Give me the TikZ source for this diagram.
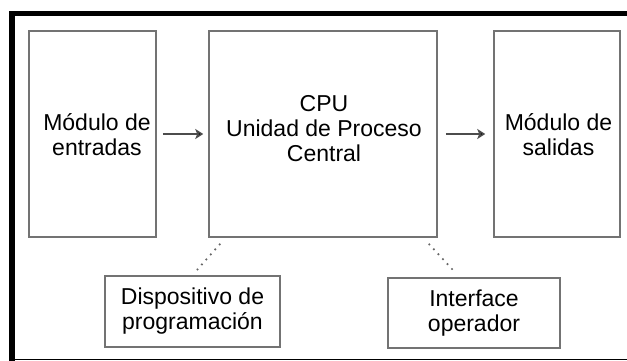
\documentclass[tikz,border=0pt]{standalone}
\usepackage{fontspec}
\setmainfont{Liberation Sans}
\usetikzlibrary{arrows.meta}
\begin{document}
\begin{tikzpicture}[x=1pt,y=-1pt,
  box/.style={draw=black!55,line width=1.5pt,inner sep=0pt,fill=white},
  txt/.style={inner sep=0pt,align=center,text=black,font=\fontsize{23}{25}\selectfont},
  btxt/.style={box,align=center,text=black,font=\fontsize{23}{25}\selectfont},
  arr/.style={draw=black!70,line width=2.6pt,-{Stealth[length=8pt,width=10pt,inset=2pt,fill=black]}},
  dots/.style={draw=black!60,line width=1.7pt,dash pattern=on 1.7pt off 5pt}]
\useasboundingbox (0,0) rectangle (627,361);
% frame
\fill[black] (9,11) rectangle (627,16.5);
\fill[black] (9,11) rectangle (15,361);
\draw[black,line width=1.5pt] (9,359.5) -- (627,359.5);
% boxes
\node[box,minimum width=127pt,minimum height=206pt] (in) at (92.5,134) {};
\node[box,minimum width=228pt,minimum height=206pt] (cpu) at (323,134) {};
\node[box,minimum width=126pt,minimum height=206pt] (out) at (557,134) {};
\node[txt] (tin) at (97,134.5) {Módulo de\\entradas};
\node[txt] (tcpu) at (324,129) {CPU\\Unidad de Proceso\\Central};
\node[txt] (tout) at (558.5,134.5) {Módulo de\\salidas};
\node[btxt,minimum width=175pt,minimum height=71pt] (prog) at (192.5,311.5) {Dispositivo de\\programación};
\node[btxt,minimum width=172pt,minimum height=70pt] (intf) at (474,313) {Interface\\operador};
% arrows
\draw[arr] ([xshift=6pt]in.east) -- ([xshift=-5pt]cpu.west);
\draw[arr] ([xshift=8pt]cpu.east) -- ([xshift=-8pt]out.west);
% dotted links
\draw[dots] ([shift={(12,6)}]cpu.south west) -- ([shift={(2.5,-3)}]prog.north);
\draw[dots] ([shift={(-9,6)}]cpu.south east) -- ([shift={(-19,-5)}]intf.north);
\end{tikzpicture}
\end{document}
